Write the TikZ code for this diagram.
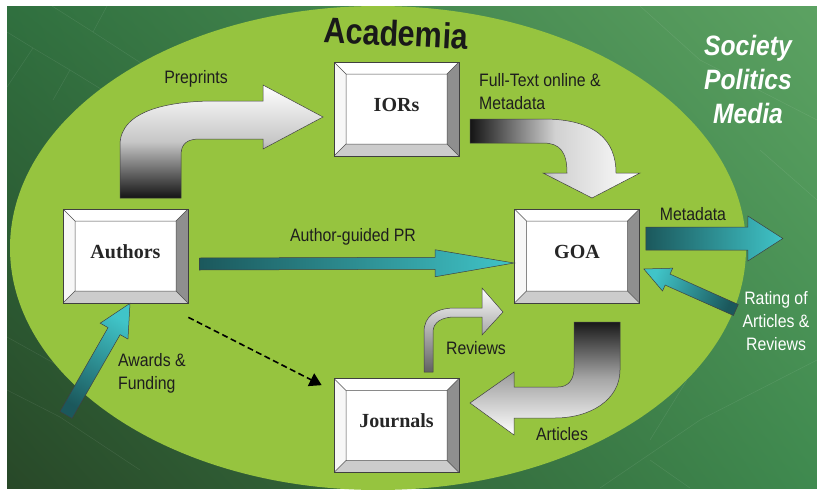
\documentclass[tikz,border=0pt]{standalone}
\usepackage{fontspec}
\setmainfont{Liberation Serif}
\newfontfamily\labfont[FakeStretch=0.88]{Liberation Sans}
\newfontfamily\titlefont[FakeStretch=0.85]{Liberation Sans}
\usetikzlibrary{calc,shadings,arrows.meta}
\definecolor{ellgreen}{HTML}{96C43F}
\definecolor{bgUL}{HTML}{30703F}
\definecolor{bgUR}{HTML}{5CA262}
\definecolor{bgLL}{HTML}{284828}
\definecolor{bgLR}{HTML}{3F8A4F}
\definecolor{tealdark}{HTML}{1B585C}
\definecolor{tealcyan}{HTML}{40C4C8}
\definecolor{txt}{HTML}{1E1E1E}
\tikzset{
  bevelbox/.style={rectangle, draw=black!75, line width=0.7pt, fill=white,
    minimum width=125pt, minimum height=94pt, inner sep=0pt,
    text height=14pt, text depth=10pt,
    font=\bfseries\fontsize{20}{24}\selectfont, text=black!85,
    path picture={
      \coordinate (bnw) at (path picture bounding box.north west);
      \coordinate (bne) at (path picture bounding box.north east);
      \coordinate (bsw) at (path picture bounding box.south west);
      \coordinate (bse) at (path picture bounding box.south east);
      \coordinate (inw) at ($(bnw)+(12pt,-12pt)$);
      \coordinate (ine) at ($(bne)+(-12pt,-12pt)$);
      \coordinate (isw) at ($(bsw)+(12pt,12pt)$);
      \coordinate (ise) at ($(bse)+(-12pt,12pt)$);
      \fill[black!44] (bne) -- (bse) -- (ise) -- (ine) -- cycle;
      \fill[black!20] (bsw) -- (bse) -- (ise) -- (isw) -- cycle;
      \fill[black!3] (bnw) -- (bsw) -- (isw) -- (inw) -- cycle;
      \draw[black!70, line width=0.5pt] (inw) rectangle (ise)
        (bnw) -- (inw) (bne) -- (ine) (bsw) -- (isw) (bse) -- (ise);
    }},
  lab/.style={font=\labfont\fontsize{18}{23}\selectfont, text=txt, inner sep=0pt},
  blockline/.style={draw=black!75, line width=0.5pt},
  dasharrow/.style={draw=black, line width=1.6pt, dash pattern=on 6pt off 3.5pt,
    -{Triangle[length=12pt,width=14pt]}},
  bgline/.style={draw=white, opacity=0.09, line width=0.5pt}
}
\newcommand\blockarr[6]{%
  \coordinate (ba-h) at ($(#3)!#6!(#2)$);
  \shade[#1] ($(#2)!#4!90:(#3)$) -- ($(ba-h)!#4!-90:(#2)$) -- ($(ba-h)!#5!-90:(#2)$)
    -- (#3) -- ($(ba-h)!#5!90:(#2)$) -- ($(ba-h)!#4!90:(#2)$) -- ($(#2)!#4!-90:(#3)$) -- cycle;
}
\begin{document}
\begin{tikzpicture}[x=1pt,y=-1pt]
\useasboundingbox (0,0) rectangle (817,490);
\fill[white] (0,0) rectangle (817,490);
\shade[upper left=bgUL, upper right=bgUR, lower left=bgLL, lower right=bgLR] (7,6) rectangle (817,488);
% faint background tiling lines
\draw[bgline] (52,6) -- (93,32) -- (260,140);
\draw[bgline] (93,32) -- (107,6);
\draw[bgline] (7,32) -- (33,48) -- (70,70) -- (200,150);
\draw[bgline] (33,48) -- (7,87);
\draw[bgline] (70,70) -- (53,100);
\draw[bgline] (7,337) -- (43,357) -- (120,400);
\draw[bgline] (7,390) -- (60,417) -- (140,470);
\draw[bgline] (687,380) -- (650,440);
\draw[bgline] (650,460) -- (690,488);
\draw[bgline] (640,6) -- (700,60) -- (817,120);
\draw[bgline] (760,150) -- (817,200);
\draw[bgline] (600,488) -- (700,420) -- (817,360);
% Academia ellipse
\fill[ellgreen] (378,248) ellipse [x radius=368pt, y radius=242pt];

% titles
\node[font=\titlefont\bfseries\fontsize{36}{40}\selectfont, text=black!90, rotate=-3, inner sep=0pt] (acad) at (396,33) {Academia};
\node[font=\labfont\bfseries\itshape\fontsize{28}{34}\selectfont, text=white, align=center, inner sep=0pt] (soc) at (748,79) {Society\\Politics\\Media};

% boxes
\node[bevelbox] (iors) at (396.5,109) {IORs};
\node[bevelbox] (authors) at (125.5,256) {Authors};
\node[bevelbox] (goa) at (577,256) {GOA};
\node[bevelbox] (journals) at (396.5,425.5) {Journals};

% Preprints bent arrow (Authors -> IORs)
\shade[blockline, top color=white, bottom color=black!92, middle color=black!22]
  (120,198) -- (120,145) .. controls (120,110) and (170,101) .. (215,101) -- (263,101)
  -- (263,85) -- (323,117) -- (263,149) -- (263,139) -- (200,139)
  .. controls (188,139) and (181,143) .. (181,155) -- (181,198) -- cycle;
% Full-Text bent arrow (IORs -> GOA)
\shade[blockline, left color=black!92, right color=white, middle color=black!18]
  (470,119) -- (543,119) .. controls (595,119) and (616,140) .. (616,173) -- (640,173)
  -- (592,198) -- (543,173) -- (567,173) .. controls (567,152) and (560,143) .. (543,143)
  -- (470,143) -- cycle;
% Reviews bent arrow (Journals -> GOA)
\shade[blockline, top color=white, bottom color=black!62]
  (424,372) -- (424,332) .. controls (424,316) and (436,308) .. (455,308) -- (482,308)
  -- (482,288) -- (503,312) -- (482,335) -- (482,317) -- (455,317)
  .. controls (442,317) and (433,322) .. (433,332) -- (433,372) -- cycle;
% Articles bent arrow (GOA -> Journals)
\shade[blockline, top color=black!90, bottom color=white, middle color=black!35]
  (574,322) -- (620,322) -- (620,370) .. controls (620,400) and (590,418) .. (555,418)
  -- (514,418) -- (514,435) -- (470,403) -- (514,372) -- (514,387) -- (558,387)
  .. controls (568,387) and (574,380) .. (574,368) -- cycle;

% straight teal arrows
\coordinate (prA) at ($(authors.east)+(11,8)$);
\coordinate (prB) at ($(goa.west)+(0,7)$);
\blockarr{blockline, left color=tealdark, right color=tealcyan}{prA}{prB}{6pt}{13.5pt}{79pt}
\coordinate (mdA) at ($(goa.east)+(6,-17.5)$);
\coordinate (mdB) at ($(goa.east)+(143,-17.5)$);
\blockarr{blockline, left color=tealdark, right color=tealcyan}{mdA}{mdB}{11.5pt}{22.5pt}{35pt}
\coordinate (rtA) at ($(goa.east)+(96,54)$);
\coordinate (rtB) at ($(goa.east)+(4,13)$);
\blockarr{blockline, top color=tealcyan, bottom color=tealdark, shading angle=66}{rtA}{rtB}{6pt}{12.5pt}{26pt}
\coordinate (awA) at (66,415);
\coordinate (awB) at ($(authors.south)+(4.5,0)$);
\blockarr{blockline, top color=tealcyan, bottom color=tealdark, shading angle=-30}{awA}{awB}{7pt}{16pt}{32pt}

% dashed arrow Authors -> Journals
\draw[dasharrow] ($(authors.south east)+(0,14)$) -- ($(journals.north west)+(-12,7)$);

% labels
\node[lab] (lpre) at (196,79) {Preprints};
\node[lab, anchor=west, align=left] (lfull) at (479,91.5) {Full-Text online \&\\Metadata};
\node[lab] (lpr) at (353,237) {Author-guided PR};
\node[lab] (lmeta) at (693,214) {Metadata};
\node[lab, text=white, align=center] (lrate) at (776,321) {Rating of\\Articles \&\\Reviews};
\node[lab] (lrev) at (476,348) {Reviews};
\node[lab] (lart) at (562,434) {Articles};
\node[lab, anchor=west, align=left] (laward) at (118,373.5) {Awards \&\\Funding};
\end{tikzpicture}
\end{document}
